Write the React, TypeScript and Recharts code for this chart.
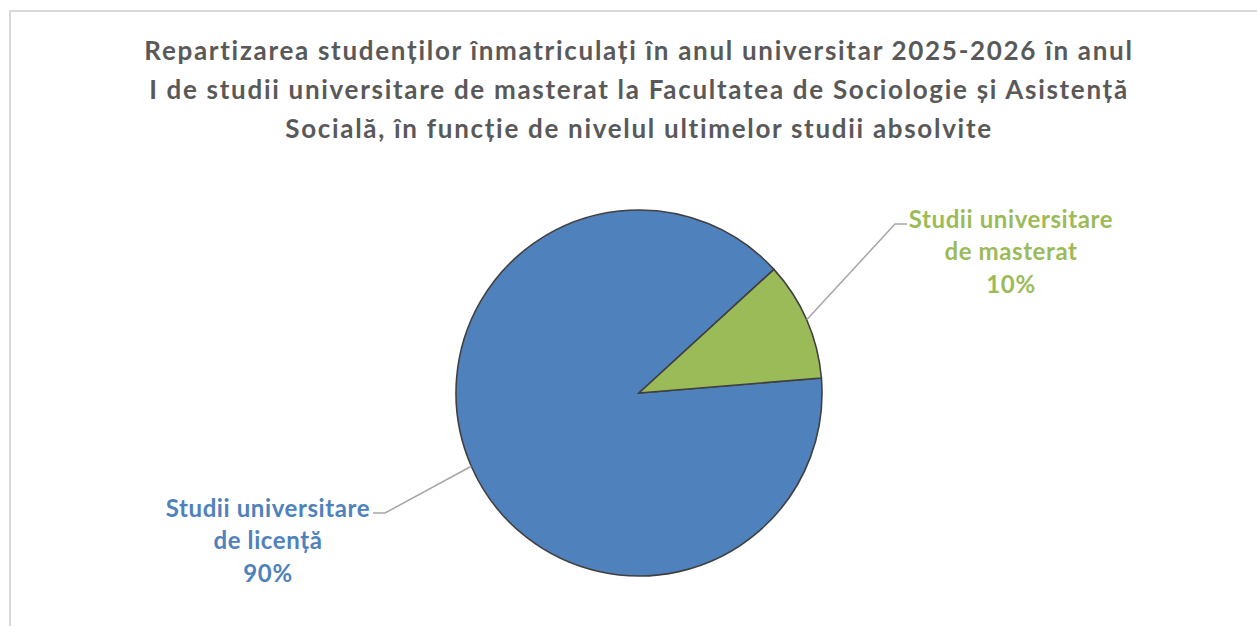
import { PieChart, Pie, Cell } from 'recharts';

const categories = ['Studii universitare de licență', 'Studii universitare de masterat'];
const labelLines = [
  ['Studii universitare', 'de licență'],
  ['Studii universitare', 'de masterat'],
];
const shares = [89.5, 10.5];
const percentLabels = ['90%', '10%'];
const titleLines = [
  'Repartizarea studenților înmatriculați în anul universitar 2025-2026 în anul',
  'I de studii universitare de masterat la Facultatea de Sociologie și Asistență',
  'Socială, în funcție de nivelul ultimelor studii absolvite',
];

const COLORS = ['#4F81BD', '#9BBB59'];
const FONT = 'Lato, "Open Sans", sans-serif';
const RAD = Math.PI / 180;

const data = categories.map((name, i) => ({ name, value: shares[i] }));

// where Excel put each label, relative to the pie centre
const labelPos = [
  { elbowX: -254, elbowY: 120, endX: -266, textX: -371, textY: 114 },
  { elbowX: 256, elbowY: -169, endX: 268, textX: 372, textY: -175 },
];

function renderLabel(props: any) {
  const { cx, cy, midAngle, outerRadius, index } = props;
  const p = labelPos[index];
  const sx = cx + outerRadius * Math.cos(-midAngle * RAD);
  const sy = cy + outerRadius * Math.sin(-midAngle * RAD);
  const ex = cx + p.elbowX;
  const ey = cy + p.elbowY;
  const lines = [...labelLines[index], percentLabels[index]];
  return (
    <g>
      <polyline
        points={`${sx},${sy} ${ex},${ey} ${cx + p.endX},${ey}`}
        fill="none"
        stroke="#A6A6A6"
        strokeWidth={1.5}
      />
      {lines.map((t, k) => (
        <text
          key={k}
          x={cx + p.textX}
          y={cy + p.textY + k * 32.5}
          textAnchor="middle"
          dominantBaseline="central"
          fill={COLORS[index]}
          fontFamily={FONT}
          fontWeight={700}
          fontSize={24}
          letterSpacing={0.6}
        >
          {t}
        </text>
      ))}
    </g>
  );
}

export default function App() {
  return (
    <div style={{ position: 'absolute', left: 0, top: 0, width: 1257, height: 626, overflow: 'hidden', background: '#fff' }}>
      <div
        style={{
          position: 'absolute',
          left: 9,
          top: 10,
          width: 1400,
          height: 800,
          border: '2px solid #D9D9D9',
        }}
      />
      <div
        style={{
          position: 'absolute',
          left: 0,
          top: 31,
          width: 1278,
          textAlign: 'center',
          fontFamily: FONT,
          fontWeight: 700,
          fontSize: 26,
          letterSpacing: 1.7,
          lineHeight: '39px',
          color: '#595959',
        }}
      >
        {titleLines.map((l, i) => (
          <div key={i}>{l}</div>
        ))}
      </div>
      <div style={{ position: 'absolute', left: 0, top: 0 }}>
        <PieChart width={1257} height={626} margin={{ top: 0, right: 0, bottom: 0, left: 0 }}>
          <Pie
            data={data}
            dataKey="value"
            nameKey="name"
            cx={639}
            cy={393}
            outerRadius={183}
            startAngle={4.7}
            endAngle={-355.3}
            stroke="#404040"
            strokeWidth={1.6}
            label={renderLabel}
            labelLine={false}
            isAnimationActive={false}
          >
            {data.map((d, i) => (
              <Cell key={d.name} fill={COLORS[i]} />
            ))}
          </Pie>
        </PieChart>
      </div>
    </div>
  );
}
